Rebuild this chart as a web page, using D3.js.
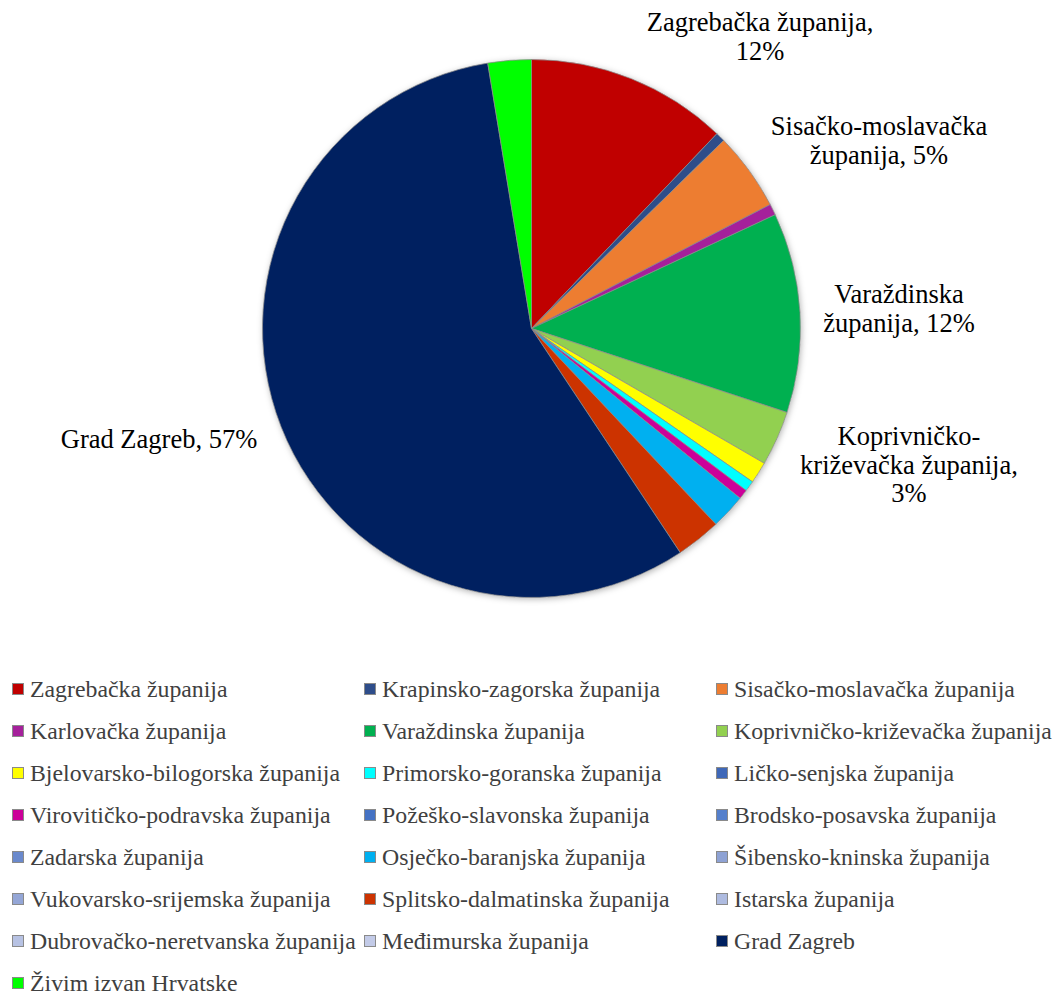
<!DOCTYPE html>
<html>
<head>
<meta charset="utf-8">
<script src="https://cdn.jsdelivr.net/npm/d3@7"></script>
<style>
  html, body { margin: 0; padding: 0; background: #ffffff; }
  svg { display: block; }
</style>
</head>
<body>
<svg id="chart" width="1055" height="996"></svg>
<script>
// ---- DATA ----
const categories = [
  "Zagrebačka županija", "Krapinsko-zagorska županija", "Sisačko-moslavačka županija",
  "Karlovačka županija", "Varaždinska županija", "Koprivničko-križevačka županija",
  "Bjelovarsko-bilogorska županija", "Primorsko-goranska županija", "Ličko-senjska županija",
  "Virovitičko-podravska županija", "Požeško-slavonska županija", "Brodsko-posavska županija",
  "Zadarska županija", "Osječko-baranjska županija", "Šibensko-kninska županija",
  "Vukovarsko-srijemska županija", "Splitsko-dalmatinska županija", "Istarska županija",
  "Dubrovačko-neretvanska županija", "Međimurska županija", "Grad Zagreb",
  "Živim izvan Hrvatske"
];
// share of respondents, percent
const values = [
  12.1, 0.57, 4.7,
  0.67, 12.0, 3.3,
  1.3, 0.64, 0,
  0.58, 0, 0,
  0, 2.1, 0,
  0, 2.7, 0,
  0, 0, 56.7,
  2.6
];
const colors = [
  "#C00000", "#2E4D8A", "#ED7D31",
  "#A5209B", "#00B050", "#92D050",
  "#FFFF00", "#00FFFF", "#3F68B8",
  "#CC0099", "#4472C4", "#5580CC",
  "#6A89CC", "#00B0F0", "#8EA2D4",
  "#94A6D6", "#CC3300", "#AEBBE0",
  "#B7C2E3", "#C3CBE8", "#002060",
  "#00FF00"
];
// which slices carry a data label, and how their text is broken into lines
const labelledIndex = [0, 2, 4, 5, 20];
const labelLines = [
  ["Zagrebačka županija,", "{p}"],
  ["Sisačko-moslavačka", "županija, {p}"],
  ["Varaždinska", "županija, {p}"],
  ["Koprivničko-", "križevačka županija,", "{p}"],
  ["Grad Zagreb, {p}"]
];

// ---- LAYOUT ----
const FONT = '"Liberation Serif"';
const cx = 531.5, cy = 328.5, radius = 269;
const labelPos = [ // centre x, first baseline y
  [760, 31], [879, 135], [899, 303], [909, 445], [159, 448]
];
const lineHeight = 28.7;
const legend = { x0: 12, colW: 352, y0: 689, rowH: 42, box: 12, gap: 6, cols: 3 };

const svg = d3.select("#chart");

const defs = svg.append("defs");
const f = defs.append("filter").attr("id", "shadow")
  .attr("x", "-10%").attr("y", "-10%").attr("width", "120%").attr("height", "120%");
f.append("feDropShadow").attr("dx", 1).attr("dy", 1.5).attr("stdDeviation", 3)
  .attr("flood-color", "#000").attr("flood-opacity", 0.3);

const total = d3.sum(values);
const pie = d3.pie().sort(null).value(d => d.v).startAngle(0).endAngle(2 * Math.PI);
const data = categories.map((c, i) => ({ name: c, v: values[i], color: colors[i], i }));
const arcs = pie(data);
const arc = d3.arc().innerRadius(0).outerRadius(radius);

const g = svg.append("g").attr("transform", `translate(${cx},${cy})`);
g.append("circle").attr("r", radius).attr("fill", "#fff").attr("filter", "url(#shadow)");
g.selectAll("path.slice")
  .data(arcs.filter(a => a.data.v > 0))
  .join("path")
  .attr("class", "slice")
  .attr("d", arc)
  .attr("fill", d => d.data.color)
  .attr("stroke", "#8a8a8a")
  .attr("stroke-width", 0.75)
  .attr("stroke-linejoin", "round");

// data labels
const fmt = v => Math.round(v / total * 100) + "%";
labelledIndex.forEach((idx, k) => {
  const [lx, ly] = labelPos[k];
  const t = svg.append("text")
    .attr("text-anchor", "middle")
    .style("font-family", FONT)
    .attr("font-size", 26.5)
    .attr("fill", "#000");
  labelLines[k].forEach((ln, j) => {
    t.append("tspan")
      .attr("x", lx)
      .attr("y", ly + j * lineHeight)
      .text(ln.replace("{p}", fmt(values[idx])));
  });
});

// legend
const lg = svg.append("g");
data.forEach((d, i) => {
  const col = i % legend.cols, row = Math.floor(i / legend.cols);
  const x = legend.x0 + col * legend.colW;
  const y = legend.y0 + row * legend.rowH;
  lg.append("rect")
    .attr("x", x + 0.5).attr("y", y - legend.box / 2 + 0.5)
    .attr("width", legend.box - 1).attr("height", legend.box - 1)
    .attr("fill", d.color).attr("stroke", "#8a8a8a").attr("stroke-width", 1);
  lg.append("text")
    .attr("x", x + legend.box + legend.gap)
    .attr("y", y + 8)
    .style("font-family", FONT)
    .attr("font-size", 23.8)
    .attr("fill", "#404040")
    .text(d.name);
});
</script>
</body>
</html>
